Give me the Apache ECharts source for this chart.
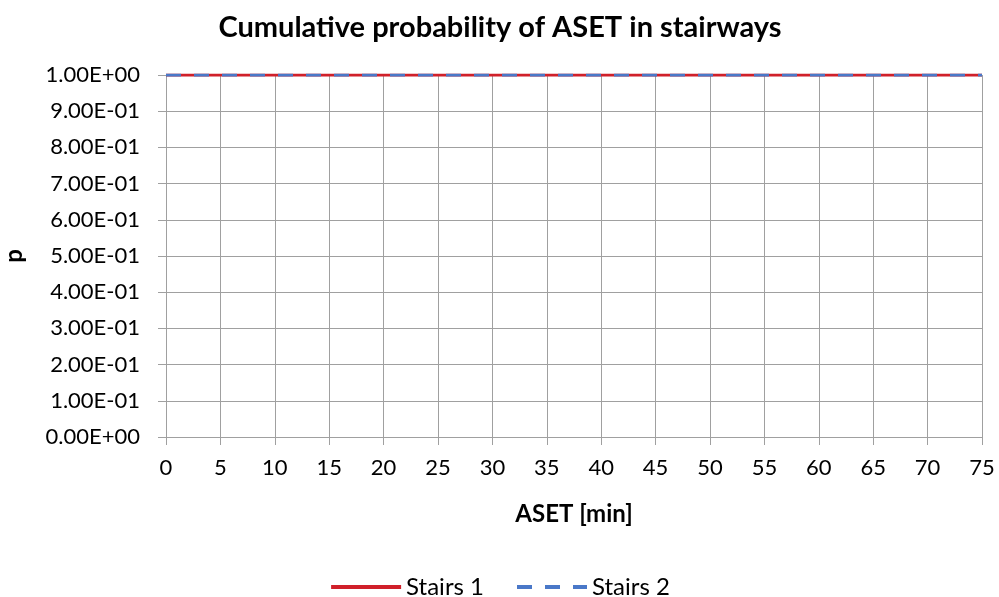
<!DOCTYPE html>
<html><head><meta charset="utf-8">
<script src="https://cdn.jsdelivr.net/npm/echarts@6/dist/echarts.min.js"></script>
<style>html,body{margin:0;padding:0;background:#fff}#c{width:999px;height:597px}</style>
</head><body><div id="c"></div>
<script>
const asetMin = [0,5,10,15,20,25,30,35,40,45,50,55,60,65,70,75];
const stairs1 = [1,1,1,1,1,1,1,1,1,1,1,1,1,1,1,1];
const stairs2 = [1,1,1,1,1,1,1,1,1,1,1,1,1,1,1,1];
const titleText = 'Cumulative probability of ASET in stairways';
const xName = 'ASET [min]';
const yName = 'p';
const seriesNames = ['Stairs 1','Stairs 2'];

function sci(v){
  let s = Number(v).toExponential(2);
  let [m,e] = s.split('e');
  let sign = e[0]==='-'?'-':'+';
  let d = Math.abs(parseInt(e,10)).toString().padStart(2,'0');
  return m+'E'+sign+d;
}
const font = 'Lato, "Open Sans", sans-serif';
const chart = echarts.init(document.getElementById('c'));
chart.setOption({
  animation:false,
  title:{text:titleText,left:495,top:8,textAlign:'center',
    textStyle:{fontFamily:font,fontWeight:'bold',fontSize:29,color:'#000'}},
  grid:{left:166,right:17,top:75,bottom:160,containLabel:false,outerBoundsMode:'none'},
  legend:{top:570,left:'center',itemWidth:70,itemHeight:4,itemGap:31,
    textStyle:{fontFamily:font,fontSize:24,color:'#000'},
    itemStyle:{opacity:0},
    lineStyle:{width:4},
    data:seriesNames},
  xAxis:{type:'value',min:0,max:75,interval:5,
    name:xName,nameLocation:'middle',nameGap:65,
    nameTextStyle:{fontFamily:font,fontWeight:'bold',fontSize:24,color:'#000'},
    axisLine:{show:true,lineStyle:{color:'#a0a0a0',width:1}},
    axisTick:{show:true,length:8,inside:false,lineStyle:{color:'#a0a0a0'}},
    axisLabel:{fontFamily:font,fontSize:22,color:'#000',margin:20},
    splitLine:{show:true,lineStyle:{color:'#a0a0a0',width:1}}},
  yAxis:{type:'value',min:0,max:1,interval:0.1,
    name:yName,nameLocation:'middle',nameGap:140,nameRotate:90,
    nameTextStyle:{fontFamily:font,fontWeight:'bold',fontSize:24,color:'#000'},
    axisLine:{show:true,lineStyle:{color:'#a0a0a0',width:1}},
    axisTick:{show:true,length:8,lineStyle:{color:'#a0a0a0'}},
    axisLabel:{fontFamily:font,fontSize:22,color:'#000',margin:26,formatter:sci},
    splitLine:{show:true,lineStyle:{color:'#a0a0a0',width:1}}},
  series:[
    {name:seriesNames[0],type:'line',symbol:'none',
      data:asetMin.map((x,i)=>[x,stairs1[i]]),
      lineStyle:{color:'#d0202a',width:3,type:'solid'},itemStyle:{color:'#d0202a'}},
    {name:seriesNames[1],type:'line',symbol:'none',
      data:asetMin.map((x,i)=>[x,stairs2[i]]),
      lineStyle:{color:'#4a78c8',width:3,type:[15,13]},itemStyle:{color:'#4a78c8'}}
  ]
});
</script></body></html>
